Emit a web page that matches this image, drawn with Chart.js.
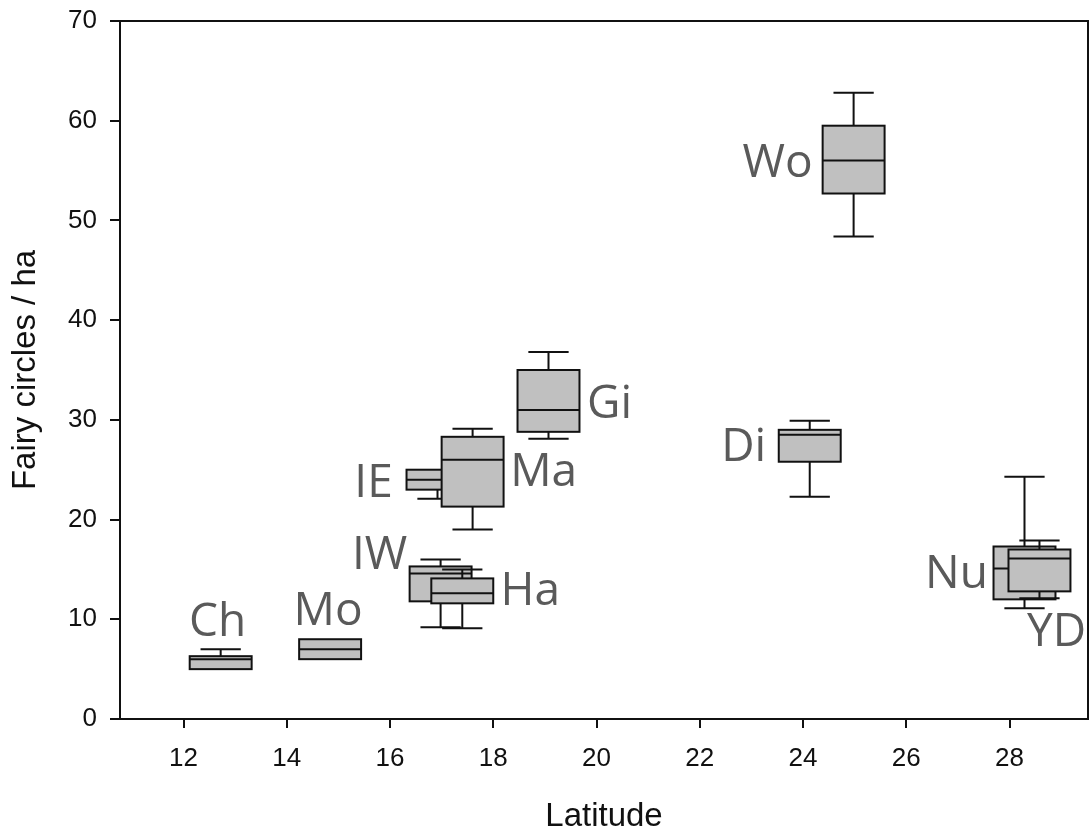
<!DOCTYPE html>
<html><head><meta charset="utf-8">
<script src="https://cdn.jsdelivr.net/npm/chart.js@4.4.1/dist/chart.umd.min.js"></script>
<style>html,body{margin:0;padding:0;background:#fff}canvas{display:block}</style>
</head><body>
<canvas id="c" width="1090" height="837"></canvas>
<script>
// ---- data (drawing order matters: later boxes overlap earlier ones) ----
const sites       = ['Ch','Mo','IE','Ma','Gi','IW','Ha','Di','Wo','Nu','YD'];
const latitudes   = [12.72, 14.84, 16.92, 17.60, 19.07, 16.98, 17.40, 24.13, 24.98, 28.29, 28.58];
const whiskerLow  = [5.0, 6.0, 22.1, 19.0, 28.1,  9.2,  9.1, 22.3, 48.4, 11.1, 12.1];
const quartile1   = [5.0, 6.0, 23.0, 21.3, 28.8, 11.8, 11.6, 25.8, 52.7, 12.0, 12.8];
const medians     = [6.0, 7.0, 24.0, 26.0, 31.0, 14.6, 12.6, 28.5, 56.0, 15.1, 16.1];
const quartile3   = [6.3, 8.0, 25.0, 28.3, 35.0, 15.3, 14.1, 29.0, 59.5, 17.3, 17.0];
const whiskerHigh = [7.0, 8.0, 25.0, 29.1, 36.8, 16.0, 15.0, 29.9, 62.8, 24.3, 17.9];
const xTicks = [12, 14, 16, 18, 20, 22, 24, 26, 28];
const yTicks = [0, 10, 20, 30, 40, 50, 60, 70];

// ---- label placement (pixel offsets from box centre / median), styling ----
const labelOffsets = {
  Ch:[-3,-23], Mo:[-2,-24], IE:[-64,17], Ma:[71,26], Gi:[61,8], IW:[-61,-4],
  Ha:[68,12], Di:[-66,26], Wo:[-76,16], Nu:[-68,20], YD:[17,88]
};
const BOX_HALF = 0.6, CAP_HALF = 0.39;

const boxPlugin = {
  id: 'boxes',
  afterDatasetsDraw(chart) {
    const {ctx, chartArea: a, scales: {x, y}} = chart;
    ctx.save();
    ctx.lineWidth = 2;
    ctx.strokeStyle = '#111';
    ctx.lineCap = 'butt';
    for (let i = 0; i < sites.length; i++) {
      const lat = latitudes[i];
      const cx = x.getPixelForValue(lat);
      const l = x.getPixelForValue(lat - BOX_HALF), r = x.getPixelForValue(lat + BOX_HALF);
      const cl = x.getPixelForValue(lat - CAP_HALF), cr = x.getPixelForValue(lat + CAP_HALF);
      const pLo = y.getPixelForValue(whiskerLow[i]), pQ1 = y.getPixelForValue(quartile1[i]);
      const pMed = y.getPixelForValue(medians[i]), pQ3 = y.getPixelForValue(quartile3[i]);
      const pHi = y.getPixelForValue(whiskerHigh[i]);
      ctx.beginPath();
      if (whiskerHigh[i] > quartile3[i]) {
        ctx.moveTo(cx, pQ3); ctx.lineTo(cx, pHi);
        ctx.moveTo(cl, pHi); ctx.lineTo(cr, pHi);
      }
      if (whiskerLow[i] < quartile1[i]) {
        ctx.moveTo(cx, pQ1); ctx.lineTo(cx, pLo);
        ctx.moveTo(cl, pLo); ctx.lineTo(cr, pLo);
      }
      ctx.stroke();
      ctx.fillStyle = '#c0c0c0';
      ctx.fillRect(l, pQ3, r - l, pQ1 - pQ3);
      ctx.strokeRect(l, pQ3, r - l, pQ1 - pQ3);
      ctx.beginPath();
      ctx.moveTo(l, pMed); ctx.lineTo(r, pMed);
      ctx.stroke();
    }
    // site labels
    ctx.fillStyle = '#5a5a5a';
    ctx.font = '46px "Open Sans"';
    ctx.textAlign = 'center';
    ctx.textBaseline = 'alphabetic';
    for (let i = 0; i < sites.length; i++) {
      const off = labelOffsets[sites[i]];
      ctx.fillText(sites[i], x.getPixelForValue(latitudes[i]) + off[0], y.getPixelForValue(medians[i]) + off[1]);
    }
    // frame
    ctx.strokeStyle = '#111';
    ctx.lineWidth = 2;
    ctx.strokeRect(a.left, a.top, a.right - a.left, a.bottom - a.top);
    ctx.restore();
  }
};

const tickFont = {family: '"Liberation Sans", Arial, sans-serif', size: 26};
const titleFont = {family: '"Liberation Sans", Arial, sans-serif', size: 33};

new Chart(document.getElementById('c'), {
  type: 'scatter',
  data: {datasets: [{data: latitudes.map((v, i) => ({x: v, y: medians[i]})), pointRadius: 0, showLine: false}]},
  options: {
    responsive: false, animation: false, events: [],
    layout: {padding: {top: 21, right: 2, left: 0, bottom: 0}},
    plugins: {legend: {display: false}, tooltip: {enabled: false}},
    scales: {
      x: {
        type: 'linear', min: 10.77, max: 29.52,
        afterBuildTicks: s => { s.ticks = xTicks.map(v => ({value: v})); },
        afterFit: s => { s.height = 118; s.paddingLeft = 0; s.paddingRight = 0; },
        border: {display: false},
        grid: {drawOnChartArea: false, drawTicks: true, tickLength: 9, color: '#111', lineWidth: 2},
        ticks: {color: '#111', font: tickFont, padding: 15, maxRotation: 0, autoSkip: false},
        title: {display: true, text: 'Latitude', color: '#111', font: titleFont, padding: {top: 0, bottom: 0}}
      },
      y: {
        type: 'linear', min: 0, max: 70,
        afterBuildTicks: s => { s.ticks = yTicks.map(v => ({value: v})); },
        afterFit: s => { s.width = 120; s.paddingTop = 0; s.paddingBottom = 0; },
        border: {display: false},
        grid: {drawOnChartArea: false, drawTicks: true, tickLength: 10, color: '#111', lineWidth: 2},
        ticks: {color: '#111', font: tickFont, padding: 13, autoSkip: false},
        title: {display: true, text: 'Fairy circles / ha', color: '#111', font: titleFont, padding: {top: 6, bottom: 0}}
      }
    }
  },
  plugins: [boxPlugin]
});
</script>
</body></html>
